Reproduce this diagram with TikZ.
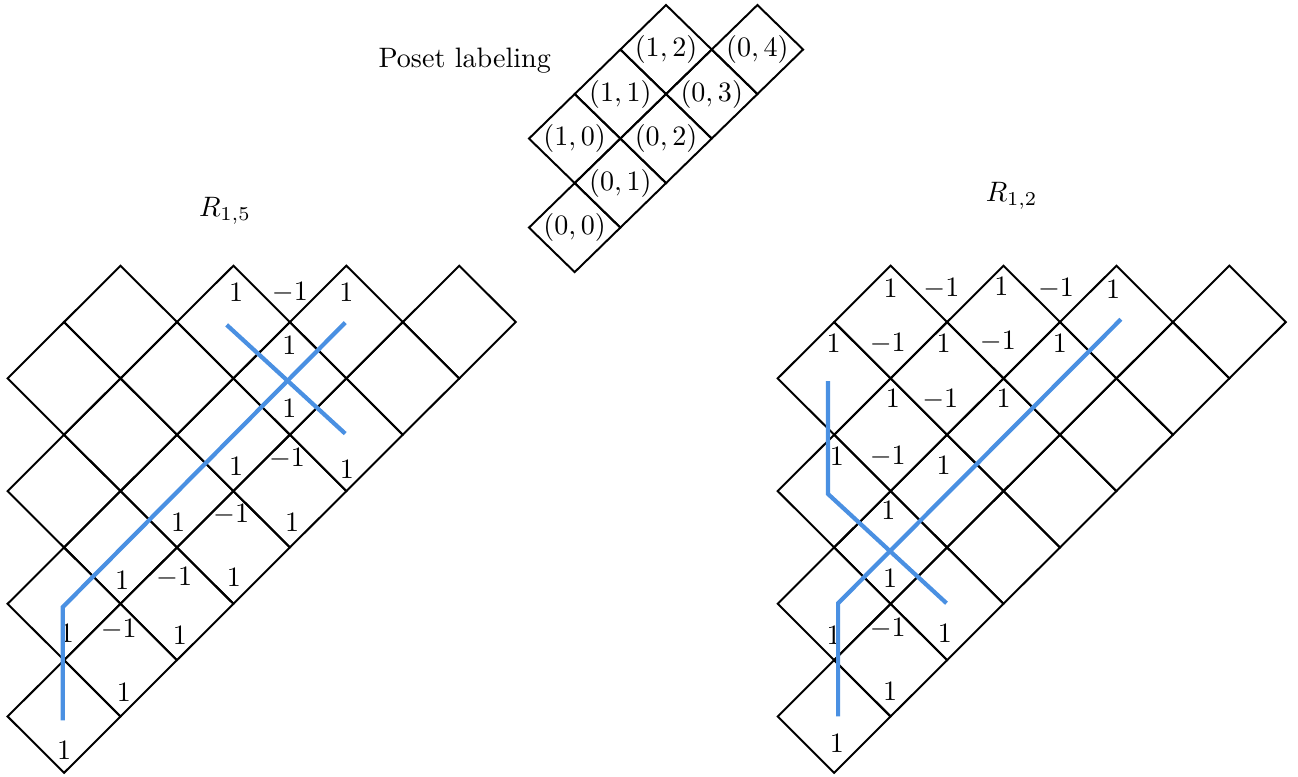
\documentclass[tikz,border=0pt]{standalone}
\definecolor{pathblue}{RGB}{74,144,226}
\tikzset{
  cell/.style={draw=black, line width=0.7pt, line join=miter},
  strand/.style={draw=pathblue, line width=1.5pt},
  entry/.style={inner sep=0pt},
}
% staircase of diamond cells: centres (u,v) with u,v >= 1 and u+v in {3,5,7,9}
\newcommand{\staircasecells}{%
  \foreach \s in {3,5,7,9}{%
    \pgfmathtruncatemacro{\m}{\s-1}%
    \foreach \u in {1,...,\m}{%
      \draw[cell] (\u-1,\s-\u) -- (\u,\s-\u-1) -- (\u+1,\s-\u) -- (\u,\s-\u+1) -- cycle;
    }%
  }%
}
\begin{document}
\begin{tikzpicture}[x=0.012516cm, y=-0.012516cm]
\useasboundingbox (0,0) rectangle (1298,776);

% ---------- poset labeling ----------
\node (posettitle) at (464.7,60.8) {Poset labeling};
\begin{scope}[shift={(529,5)}, x=0.5716cm, y=-0.5570cm]
  \foreach \a/\b/\lab [count=\i] in {1/5/{(0,0)}, 2/4/{(0,1)}, 3/3/{(0,2)}, 4/2/{(0,3)}, 5/1/{(0,4)},
                                    1/3/{(1,0)}, 2/2/{(1,1)}, 3/1/{(1,2)}}{
    \draw[cell] (\a-1,\b) -- (\a,\b-1) -- (\a+1,\b) -- (\a,\b+1) -- cycle;
    \node[entry] (P\i) at (\a,\b) {$\lab$};
  }
\end{scope}

% ---------- R_{1,5} ----------
\node (titleA) at (225,210.5) {$R_{1,5}$};
\begin{scope}[shift={(7.6,265.7)}, x=0.7064cm, y=-0.7050cm]
  \staircasecells
  \foreach \u/\v/\t [count=\i] in {
      4.05/0.47/1, 5.0/0.47/-1, 6.0/0.48/1,
      4.99/1.41/1, 4.99/2.54/1,
      4.05/3.57/1, 4.95/3.43/-1, 6.01/3.61/1,
      3.02/4.55/1, 3.96/4.42/-1, 5.04/4.55/1,
      2.03/5.58/1, 2.95/5.53/-1, 4.01/5.54/1,
      1.05/6.52/1, 1.97/6.45/-1, 3.05/6.57/1,
      2.06/7.57/1, 1.0/8.6/1}{
    \node[entry] (A\i) at (\u,\v) {$\t$};
  }
  \draw[strand] (0.976,8.07) -- (0.976,6.06) -- (5.98,1.01);
  \draw[strand] (3.88,1.05) -- (5.98,2.98);
\end{scope}

% ---------- R_{1,2} ----------
\node (titleB) at (1011.7,196) {$R_{1,2}$};
\begin{scope}[shift={(777.7,265.7)}, x=0.7064cm, y=-0.7050cm]
  \staircasecells
  \foreach \u/\v/\t [count=\i] in {
      2.0/0.40/1, 2.9/0.40/-1, 3.96/0.37/1, 4.93/0.40/-1, 5.94/0.43/1,
      0.99/1.38/1, 1.95/1.38/-1, 2.94/1.38/1, 3.9/1.35/-1, 5.0/1.38/1,
      2.04/2.35/1, 2.88/2.38/-1, 4.0/2.35/1,
      1.05/3.39/1, 1.95/3.39/-1, 2.94/3.54/1,
      1.96/4.34/1,
      1.99/5.55/1,
      0.99/6.56/1, 1.95/6.44/-1, 2.96/6.53/1,
      1.99/7.56/1,
      1.05/8.48/1}{
    \node[entry] (B\i) at (\u,\v) {$\t$};
  }
  \draw[strand] (1.07,8.0) -- (1.07,5.99) -- (6.08,0.95);
  \draw[strand] (0.89,2.05) -- (0.89,4.05) -- (2.99,5.99);
\end{scope}
\end{tikzpicture}
\end{document}
